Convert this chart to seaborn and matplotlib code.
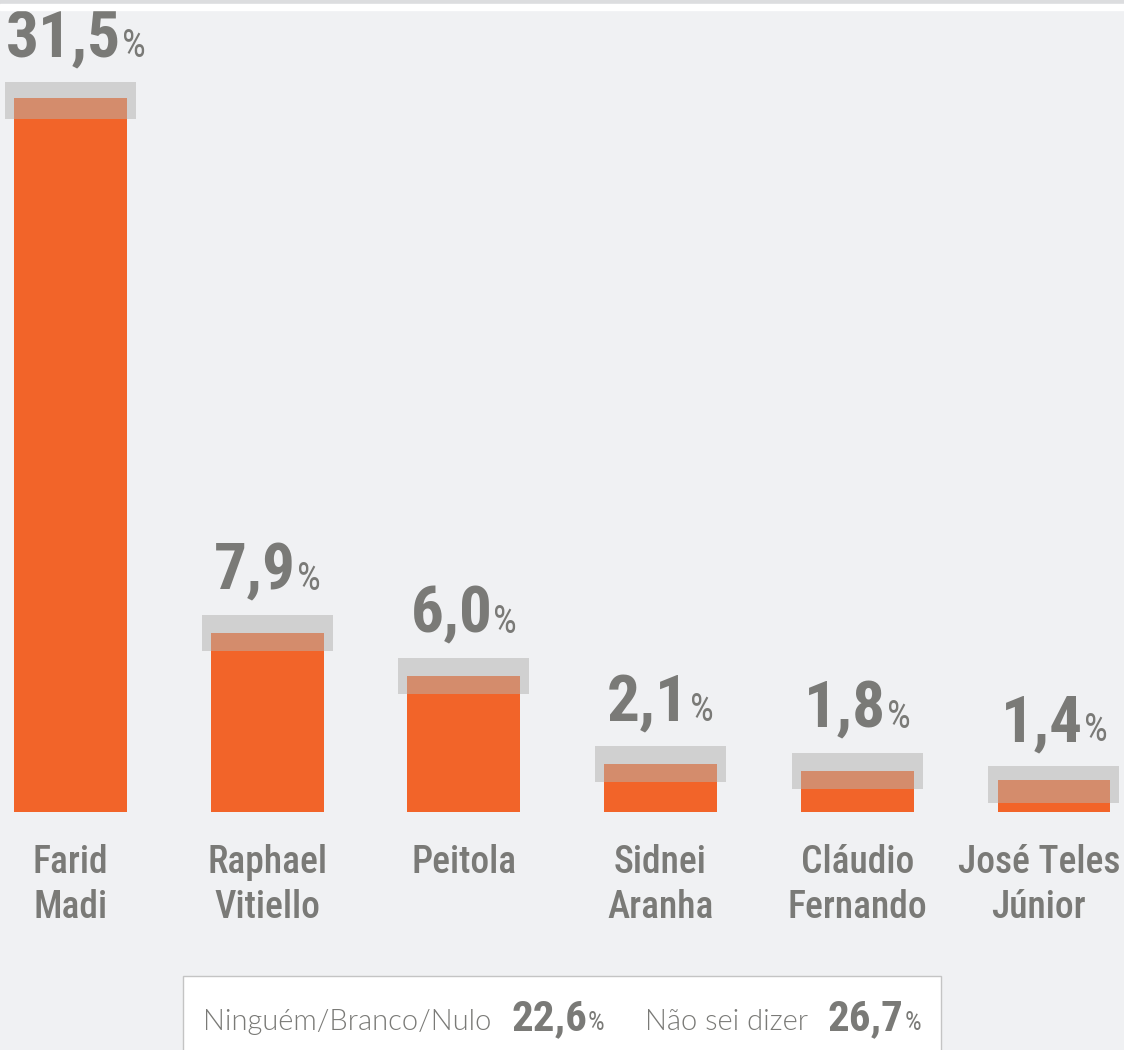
import matplotlib
matplotlib.use("Agg")
import matplotlib.pyplot as plt
from matplotlib.patches import Rectangle
import seaborn as sns

# poll values
candidates = ["Farid\nMadi", "Raphael\nVitiello", "Peitola",
              "Sidnei\nAranha", "Cláudio\nFernando", "José Teles\nJúnior"]
values = [31.5, 7.9, 6.0, 2.1, 1.8, 1.4]
# margin-of-error band around each bar
band_low = [30.6, 7.1, 5.2, 1.3, 1.0, 0.4]
band_high = [32.2, 8.7, 6.8, 2.9, 2.6, 2.0]

other_labels = ["Ninguém/Branco/Nulo", "Não sei dizer"]
other_values = [22.6, 26.7]

ORANGE = "#f26429"
OVERLAP = "#d48c6c"
BAND = "#d0d0d0"
BG = "#f0f1f3"
TXT = "#7a7a77"

COND = ["Roboto Condensed", "DejaVu Sans"]
LIGHT = ["Lato", "DejaVu Sans"]

sns.set_theme(style="white")
plt.rcParams["font.family"] = COND

W, H = 1124, 1050
fig = plt.figure(figsize=(W / 100, H / 100), dpi=100, facecolor=BG)
ax = fig.add_axes([0, 0, 1, 1])
ax.set_facecolor(BG)

x = list(range(len(values)))

# bands first, then the bars, then the overlapping part of the band
ax.bar(x, [h - l for h, l in zip(band_high, band_low)], bottom=band_low,
       width=0.666, color=BAND, linewidth=0, zorder=1)
sns.barplot(x=candidates, y=values, color=ORANGE, saturation=1,
            width=0.574, linewidth=0, ax=ax, zorder=2)
ax.bar(x, [v - l for v, l in zip(values, band_low)], bottom=band_low,
       width=0.574, color=OVERLAP, linewidth=0, zorder=3)

ax.set_xlim(-0.358, 5.356)
ax.set_ylim(-10.52, 35.84)
ax.axis("off")

fig.canvas.draw()
renderer = fig.canvas.get_renderer()


def text_width(s, **kw):
    t = ax.text(0, 0, s, **kw)
    w = t.get_window_extent(renderer).width
    t.remove()
    return w


def fmt(v):
    return f"{v:.1f}".replace(".", ",")


NUM_KW = dict(fontsize=47, fontweight="bold", fontstretch="condensed",
              color=TXT, family=COND)
PCT_KW = dict(fontsize=27, fontstretch="condensed", color=TXT, family=COND)

# value labels above the bands
for i, (v, hi) in enumerate(zip(values, band_high)):
    s = fmt(v)
    w1 = text_width(s, **NUM_KW)
    w2 = text_width("%", **PCT_KW)
    cx = ax.transData.transform((i, 0))[0]
    left = max(-(w1 + w2 + 1) / 2, 6 - cx)
    ax.annotate(s, (i, hi), xytext=(left, 25), textcoords="offset pixels",
                ha="left", va="baseline", **NUM_KW)
    ax.annotate("%", (i, hi), xytext=(left + w1 + 1, 25),
                textcoords="offset pixels", ha="left", va="baseline", **PCT_KW)

# candidate names below the bars
NAME_KW = dict(fontsize=27, fontweight="medium", fontstretch="condensed",
               color=TXT, linespacing=1.3, family=COND)
for i, name in enumerate(candidates):
    cx = ax.transData.transform((i, 0))[0]
    w = max(text_width(line, **NAME_KW) for line in name.split("\n"))
    dx = min(0, W - 4 - (cx + w / 2))
    ax.annotate(name, (i, 0), xytext=(dx, -32), textcoords="offset pixels",
                ha="center", va="top", **NAME_KW)

# top strips
fig.patches.append(Rectangle((0, 1 - 4 / H), 1, 4 / H, transform=fig.transFigure,
                             color="#dcdddf", zorder=0))
fig.patches.append(Rectangle((0, 1 - 10 / H), 1, 6 / H, transform=fig.transFigure,
                             color="white", zorder=0))

# box with the other answers
bx0, bx1, by0 = 183, 941, 976
fig.patches.append(Rectangle((bx0 / W, -20 / H), (bx1 - bx0) / W, (H - by0 + 20) / H,
                             transform=fig.transFigure, facecolor="white",
                             edgecolor="#c4c4c4", linewidth=1, zorder=0))

LBL_KW = dict(fontsize=21, fontweight=300, color=TXT, family=LIGHT)
BNUM_KW = dict(NUM_KW, fontsize=31)
BPCT_KW = dict(PCT_KW, fontsize=19)

pieces = []
for j, (lab, v) in enumerate(zip(other_labels, other_values)):
    if j > 0:
        pieces.append(("", {}, 40))
    pieces.append((lab, LBL_KW, 20))
    pieces.append((fmt(v), BNUM_KW, 1))
    pieces.append(("%", BPCT_KW, 0))

widths = [text_width(s, **kw) if s else 0 for s, kw, _ in pieces]
total = sum(w + g for w, (_, _, g) in zip(widths, pieces))
xpos = (bx0 + bx1) / 2 - total / 2
baseline = 1030
for (s, kw, gap), w in zip(pieces, widths):
    if s:
        fig.text(xpos / W, 1 - baseline / H, s, ha="left", va="baseline", **kw)
    xpos += w + gap

fig.savefig("out.png", dpi=100, facecolor=BG)
